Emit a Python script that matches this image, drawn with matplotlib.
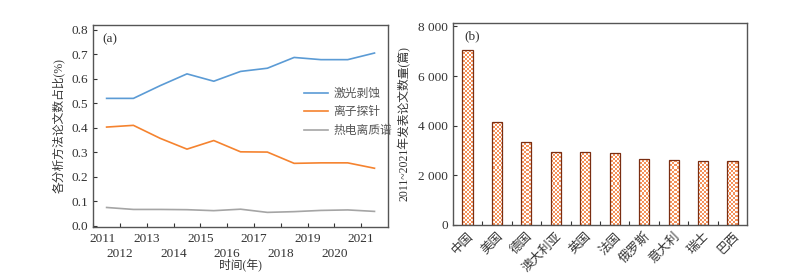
import numpy as np
import matplotlib.pyplot as plt

plt.rcParams['font.family'] = ['Liberation Serif', 'Noto Sans CJK SC']
plt.rcParams['axes.unicode_minus'] = False

# DATA
years = ["2011", "2012", "2013", "2014", "2015", "2016", "2017", "2018", "2019", "2020", "2021"]
laser = [0.52, 0.52, 0.572, 0.62, 0.59, 0.63, 0.643, 0.687, 0.678, 0.678, 0.705]
probe = [0.403, 0.41, 0.357, 0.313, 0.348, 0.302, 0.301, 0.255, 0.257, 0.257, 0.235]
tims = [0.075, 0.067, 0.067, 0.066, 0.062, 0.068, 0.055, 0.058, 0.063, 0.065, 0.059]
series_names = ["激光剥蚀", "离子探针", "热电离质谱"]

countries = ["中国", "美国", "德国", "澳大利亚", "英国", "法国", "俄罗斯", "意大利", "瑞士", "巴西"]
papers = [7060, 4160, 3340, 2950, 2940, 2910, 2660, 2600, 2590, 2580]

TXT = "#333333"
fig = plt.figure(figsize=(7.9, 2.76), dpi=100)

# (a) line chart
ax1 = fig.add_axes([0.118, 0.179, 0.373, 0.731])
x = np.arange(len(years))
ax1.plot(x, laser, color="#5b9bd5", lw=1.2, label=series_names[0])
ax1.plot(x, probe, color="#f5832f", lw=1.2, label=series_names[1])
ax1.plot(x, tims, color="#a5a5a5", lw=1.2, label=series_names[2])
ax1.set_xlim(-0.5, len(years) - 0.5)
ax1.set_ylim(-0.003, 0.82)
ax1.set_yticks(np.arange(0, 0.81, 0.1))
ax1.set_yticklabels([f"{v:.1f}" for v in np.arange(0, 0.81, 0.1)])
ax1.set_xticks(np.arange(-0.5, len(years) - 0.5, 1.0))
ax1.set_xticklabels([])
ax1.tick_params(direction="in", length=3, labelsize=9.5, colors=TXT, width=0.8)
for i, yr in enumerate(years):
    xpos = i - 0.5 if i > 0 else -0.15
    yoff = -0.06 if i % 2 == 0 else -0.135
    ax1.text(xpos, yoff, yr, transform=ax1.get_xaxis_transform(), ha="center",
             va="center", fontsize=9.5, color=TXT)
ax1.text(0.5, -0.195, "时间(年)", transform=ax1.transAxes, ha="center", va="center",
         fontsize=8.5, color=TXT)
ax1.set_ylabel("各分析方法论文数占比(%)", fontsize=8.5, color=TXT, labelpad=5)
ax1.text(0.03, 0.96, "(a)", transform=ax1.transAxes, ha="left", va="top", fontsize=9.5, color=TXT)
leg = ax1.legend(loc="upper left", bbox_to_anchor=(0.68, 0.74), frameon=False,
                 fontsize=8.5, handlelength=2.0, labelspacing=0.55, handletextpad=0.5)
for t in leg.get_texts():
    t.set_color("#555555")
for sp in ax1.spines.values():
    sp.set_color("#555555")
    sp.set_linewidth(1.0)

# (b) bar chart
ax2 = fig.add_axes([0.573, 0.185, 0.373, 0.733])
xb = np.arange(len(countries))
bars = ax2.bar(xb, papers, width=0.35, facecolor="none", edgecolor="#7a2e12", lw=0.9, zorder=3)
ax2.set_xlim(-0.5, len(countries) - 0.5)
ax2.set_ylim(0, 8150)
xl, yl = ax2.get_xlim(), ax2.get_ylim()
ny, nx = 101, 148
checker = (np.add.outer(np.arange(ny), np.arange(nx)) % 2).astype(float)
cmap = plt.matplotlib.colors.ListedColormap(["#f4915a", "#ffffff"])
for b in bars:
    im = ax2.imshow(checker, extent=(xl[0], xl[1], yl[0], yl[1]), cmap=cmap,
                    interpolation="nearest", aspect="auto", zorder=2)
    im.set_clip_path(b)
ax2.set_xlim(xl)
ax2.set_ylim(yl)
ax2.set_yticks([0, 2000, 4000, 6000, 8000])
ax2.set_yticklabels(["0", "2 000", "4 000", "6 000", "8 000"])
ax2.set_xticks(np.arange(0.5, len(countries) - 0.5, 1.0))
ax2.set_xticklabels([])
ax2.set_xticks(xb, minor=True)
ax2.set_xticklabels(countries, minor=True, rotation=45, ha="right", rotation_mode="anchor",
                    fontsize=9, color=TXT)
ax2.tick_params(axis="x", which="minor", length=0, pad=4)
ax2.tick_params(direction="in", length=3, labelsize=9.5, colors=TXT, width=0.8)
ax2.set_ylabel("2011~2021年发表论文数量(篇)", fontsize=8.5, color=TXT, labelpad=5)
ax2.text(0.04, 0.96, "(b)", transform=ax2.transAxes, ha="left", va="top", fontsize=9.5, color=TXT)
for sp in ax2.spines.values():
    sp.set_color("#555555")
    sp.set_linewidth(1.0)

fig.savefig("out.png", dpi=100)
